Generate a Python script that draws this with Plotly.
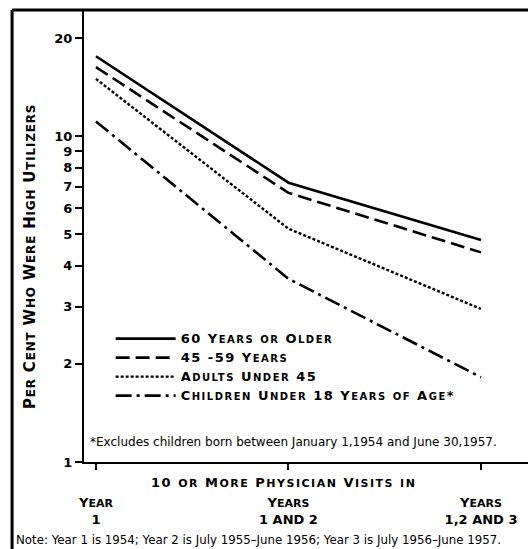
import plotly.graph_objects as go
import math

# ---- data ----
periods = [1, 2, 3]
period_labels = ["Year|1", "Years|1 and 2", "Years|1,2 and 3"]
series_names = ["60 Years or Older", "45 -59 Years", "Adults Under 45", "Children Under 18 Years of Age*"]
v_60_plus = [17.6, 7.2, 4.8]
v_45_59 = [16.3, 6.7, 4.4]
v_adults_u45 = [15.0, 5.2, 2.95]
v_children = [11.1, 3.65, 1.82]
y_tickvals = [1, 2, 3, 4, 5, 6, 7, 8, 9, 10, 20]

FONT = "DejaVu Sans"


def sc(text, big=13, small=10, ls=0):
    """Fake small caps: uppercase letters/digits big, lowercase letters small caps."""
    out = []
    buf = ""
    mode = None
    for ch in text:
        m = "s" if ch.islower() else "b"
        if mode is None:
            mode = m
        if m != mode:
            out.append((mode, buf))
            buf = ""
            mode = m
        buf += ch.upper()
    if buf:
        out.append((mode, buf))
    res = ""
    for m, s in out:
        size = small if m == "s" else big
        extra = f";letter-spacing:{ls}px" if ls else ""
        res += f'<span style="font-size:{size}px{extra}">{s}</span>'
    return res


styles = [
    dict(color="black", width=2.6, dash="solid"),
    dict(color="black", width=2.6, dash="14px,6px"),
    dict(color="black", width=2.4, dash="3px,2px"),
    dict(color="black", width=2.6, dash="16px,5px,3px,5px"),
]

fig = go.Figure()
for name, vals, st in zip(series_names, [v_60_plus, v_45_59, v_adults_u45, v_children], styles):
    fig.add_trace(go.Scatter(x=periods, y=vals, mode="lines", name=sc(name, 13, 10, 1.5), line=st))

ticktext = []
for lab in period_labels:
    a, b = lab.split("|")
    ticktext.append(sc(a, 13, 11) + "<br>" + sc(b.replace("and", "AND"), 13, 11))

fig.update_layout(
    width=528, height=549,
    margin=dict(l=84, r=0, t=10, b=87),
    paper_bgcolor="white", plot_bgcolor="white",
    font=dict(family=FONT, color="black", size=13, weight="bold"),
    showlegend=True,
    legend=dict(x=0.06, y=0.305, xanchor="left", yanchor="top",
                bgcolor="rgba(0,0,0,0)", font=dict(family=FONT, size=10, weight="bold"),
                tracegroupgap=0, itemwidth=60),
    xaxis=dict(range=[0.938, 3.244], tickvals=periods, ticktext=ticktext,
               showline=True, linecolor="black", linewidth=2,
               ticks="outside", ticklen=6, tickwidth=2, tickcolor="black",
               showgrid=False, zeroline=False, ticklabelstandoff=21,
               tickfont=dict(family=FONT, size=13, weight="bold")),
    yaxis=dict(type="log", range=[0, math.log10(24.4)], tickvals=y_tickvals,
               ticktext=[str(v) for v in y_tickvals],
               showline=True, linecolor="black", linewidth=2,
               ticks="outside", ticklen=7, tickwidth=2, tickcolor="black",
               showgrid=False, zeroline=False,
               tickfont=dict(family=FONT, size=13, weight="bold")),
)

# outer frame (top and left)
fig.add_shape(type="line", xref="paper", yref="paper", x0=-0.162, x1=1.0, y0=1, y1=1,
              line=dict(color="black", width=3))
fig.add_shape(type="line", xref="paper", yref="paper", x0=-0.162, x1=-0.162, y0=1, y1=-0.2,
              line=dict(color="black", width=3))

# y axis title
fig.add_annotation(xref="paper", yref="paper", x=(30 - 84) / 444, y=(462 - 257) / 452,
                   xanchor="center", yanchor="middle", textangle=-90,
                   text=sc("Per Cent Who Were High Utilizers", 15, 12, 0.8), showarrow=False)
# footnote inside plot
fig.add_annotation(xref="paper", yref="paper", x=0.008, y=(462 - 442) / 452, xanchor="left", yanchor="middle",
                   text="*Excludes children born between January 1,1954 and June 30,1957.",
                   showarrow=False, font=dict(family=FONT, size=12, weight="normal"))
# x axis title
fig.add_annotation(xref="paper", yref="paper", x=(283 - 84) / 444, y=(462 - 483) / 452,
                   xanchor="center", yanchor="middle",
                   text=sc("10 or More Physician Visits in", 13, 11, 1.5), showarrow=False)
# note at bottom
fig.add_annotation(xref="paper", yref="paper", x=(14 - 84) / 444, y=(462 - 540) / 452,
                   xanchor="left", yanchor="middle",
                   text="Note: Year 1 is 1954; Year 2 is July 1955\u2013June 1956; Year 3 is July 1956\u2013June 1957.",
                   showarrow=False, font=dict(family=FONT, size=11.8, weight="normal"))

fig.write_html("out.html", config={"displayModeBar": False},
               post_script="document.body.style.margin='0';")
